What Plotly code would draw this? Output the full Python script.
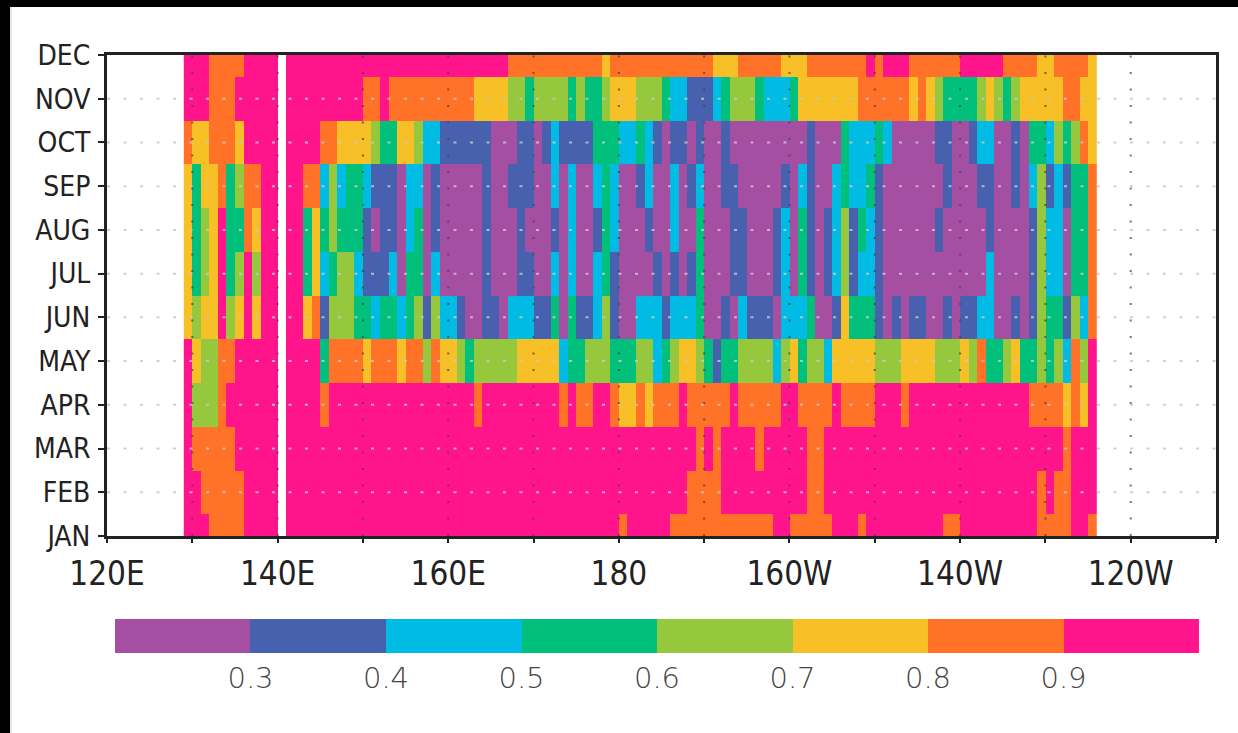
import plotly.graph_objects as go

# ---------------- data ----------------
months = ["JAN", "FEB", "MAR", "APR", "MAY", "JUN", "JUL", "AUG", "SEP", "OCT", "NOV", "DEC"]
month_pos = list(range(1, 13))

# western edge of each 1-degree longitude cell (129E ... 124W)
lon_west = list(range(129, 236))

# colour class per cell, one string per month (107 cells, groups of 10 separated by spaces)
# P<0.3  B 0.3-0.4  C 0.4-0.5  G 0.5-0.6  L 0.6-0.7  Y 0.7-0.8  O 0.8-0.9  M>0.9  -=missing
jan = "MMMOOOOMMM M-MMMMMMMM MMMMMMMMMM MMMMMMMMMM MMMMMMMMMM MOMMMMMOOO OOOOOOOOOM MOOOOOMMMO MMMMMMMMMO OMMMMMMMMM OOOOMMO"
feb = "MMOOOOOMMM M-MMMMMMMM MMMMMMMMMM MMMMMMMMMM MMMMMMMMMM MMMMMMMMMO OOOMMMMMMM MMMOOMMMMM MMMMMMMMMM MMMMMMMMMM OMOOMMM"
mar = "MOOOOOMMMM M-MMMMMMMM MMMMMMMMMM MMMMMMMMMM MMMMMMMMMM MMMMMMMMMM OMOMMMMOMM MMMOOMMMMM MMMMMMMMMM MMMMMMMMMM MMMOMMM"
apr = "MLLLOMMMMM M-MMMMOMMM MMMMMMMMMM MMMMOMMMMM MMMMOMOOMM OYYOYOOOMO OOOOMOOOOO MMOOOOMOOO OMMMOMMMMM MMMMMMMMMO OOOYOYM"
may = "MYLLOOMMMM M-MMMMGOOO OYOOOYOOLO YYLGLLLLLY YYYYCGGLLL GGGLLCGLYY LGBGGLLLLC LYGLLCYYYY YLLLYYYYLL LYLOGGLYGG LGLCOLM"
jun = "YLYYMLYMYM M-MMYOBLLL GGCGGCGLBL CCBPPBBPCC CBBGPGBBCL BPPCCCBCCC GPPBPCBBBP CCCGPPBYGG GBPBPBBPPB PBBCCPPBPB LGGBLCO"
jul = "YGLYMGLMLM M-MMGYCGLL CBBBCPGGPC PPPPPBPPPB BPPCPCPPCG BPPPPBPBPB GPPPBBPPPB CPGBPBCLBC CBPPPPPPPP PPPPCPPPPB LCCPGGO"
aug = "YGLYMGGOYM M-MMGYGLGG GBPBBPCGPB PPPPPBPPPB PPPBPCPPBG CPPPBPPCPP GPPPBBPPPB CPGBPBCLBG CBPPPPPPBP PPPPBPPPPB LCCPGGO"
sep = "YGYYOGLOOM M-MMOOCLCG GCBBBPCCPB PPPPPBPPBB BPPCPCPPCG CPPBCPPCPB CPPBBPPPPP BPCBPPCGCC GBPPPPPPPB PPPBBPPBPC LBCBGGO"
oct_ = "OYYOOOYMMM M-MMMMOOYY YYLGGYYLCC BBBBBBPPPB BPBCBBBBGG GCCGCBPBBP BPPBPPPPPP PPPBPPPGCC CGCPPPPPBB PPBCCPPBPG GCLGLOY"
nov = "MMMOOOMMMM M-MMMMMMMM MOOMOOOOOO OOOOYYYYLL GLLLLGLGGL YYYLLLGCCB BBCGLLLGCC CGYYYYYYYO OOOOOYOYLG GGGLYLGLYY YYYOOYY"
dec = "MMMOOOOMMM M-MMMMMMMM MMMMMMMMMM MMMMMMMMOO OOOOOOOOOY OOOOOOOOOO OOYYYOOOOO YYYOOOOOOO MOMMMOOOOO OMMMMMOOOO YYOOOOY"

# representative value of each colour class
class_value = {"P": 0.25, "B": 0.35, "C": 0.45, "G": 0.55, "L": 0.65,
               "Y": 0.75, "O": 0.85, "M": 0.95, "-": None}

bin_edges = [0.2, 0.3, 0.4, 0.5, 0.6, 0.7, 0.8, 0.9, 1.0]
bin_colors = ["#A54FA2", "#4761AE", "#00BBE3", "#00C07C",
              "#95C83D", "#F7C026", "#FF7228", "#FF148C"]
cbar_ticks = [0.3, 0.4, 0.5, 0.6, 0.7, 0.8, 0.9]
cbar_labels = ["0.3", "0.4", "0.5", "0.6", "0.7", "0.8", "0.9"]

x_tickvals = [120, 130, 140, 150, 160, 170, 180, 190, 200, 210, 220, 230, 240, 250]
x_ticktext = ["120E", "", "140E", "", "160E", "", "180", "", "160W", "", "140W", "", "120W", ""]

# ---------------- build ----------------
rows = [jan, feb, mar, apr, may, jun, jul, aug, sep, oct_, nov, dec]
z = []
for r in rows:
    codes = r.replace(" ", "")
    z.append([class_value[c] for c in codes])
x_centers = [w + 0.5 for w in lon_west]

zmin, zmax = bin_edges[0], bin_edges[-1]
colorscale = []
for i, c in enumerate(bin_colors):
    colorscale.append([(bin_edges[i] - zmin) / (zmax - zmin), c])
    colorscale.append([(bin_edges[i + 1] - zmin) / (zmax - zmin), c])

W, H = 1238, 733
L_, R_ = 107, 1216
T_, B_ = 55, 536
pw, ph = R_ - L_, B_ - T_


def px(xp):
    return (xp - L_) / pw


def py(yp):
    return (B_ - yp) / ph


fig = go.Figure()
fig.add_trace(go.Heatmap(
    x=x_centers, y=month_pos, z=z,
    colorscale=colorscale, zmin=zmin, zmax=zmax,
    hoverongaps=False,
    colorbar=dict(
        orientation="h",
        thicknessmode="pixels", thickness=34,
        lenmode="pixels", len=1084,
        x=px(657), xanchor="center",
        y=py(619), yanchor="top",
        xpad=0, ypad=0, outlinewidth=0,
        tickvals=cbar_ticks, ticktext=cbar_labels,
        ticks="inside", ticklen=0, tickwidth=0,
        ticklabelposition="outside bottom",
        tickfont=dict(family="DejaVu Sans", size=29, color="#444444", weight=300),
    ),
))

shapes = []
# grid drawn above the data, dotted
for xv in x_tickvals[1:-1]:
    shapes.append(dict(type="line", xref="x", yref="paper", x0=xv, x1=xv, y0=0, y1=1,
                       line=dict(color="rgba(70,70,70,0.75)", width=2, dash="2px,14.5px"),
                       layer="above"))
for yv in month_pos[1:-1]:
    shapes.append(dict(type="line", xref="paper", yref="y", x0=0, x1=1, y0=yv, y1=yv,
                       line=dict(color="rgba(200,200,200,0.85)", width=2, dash="3px,13.5px"),
                       layer="above"))
# black frame on top and left edges of the picture
shapes.append(dict(type="rect", xref="paper", yref="paper",
                   x0=px(0), x1=px(W), y0=py(0), y1=py(7),
                   fillcolor="black", line=dict(width=0), layer="above"))
shapes.append(dict(type="rect", xref="paper", yref="paper",
                   x0=px(0), x1=px(10), y0=py(H), y1=py(0),
                   fillcolor="black", line=dict(width=0), layer="above"))
shapes.append(dict(type="line", xref="paper", yref="paper",
                   x0=px(11), x1=px(11), y0=py(H), y1=py(7),
                   line=dict(color="#d0d0d0", width=1), layer="above"))

axis_font = "Liberation Sans Narrow, DejaVu Sans Condensed, Arial Narrow, sans-serif"
fig.update_layout(
    width=W, height=H,
    margin=dict(l=L_, r=W - R_, t=T_, b=H - B_, pad=0),
    paper_bgcolor="white", plot_bgcolor="white",
    showlegend=False,
    shapes=shapes,
    xaxis=dict(range=[120, 250], tickvals=x_tickvals, ticktext=x_ticktext,
               showgrid=False, zeroline=False,
               showline=True, linewidth=3, linecolor="#222222", mirror=True,
               ticks="outside", ticklen=4, tickwidth=2, tickcolor="#222222",
               ticklabelstandoff=2,
               tickfont=dict(family=axis_font, size=33, color="#222222"),
               layer="above traces"),
    yaxis=dict(range=[1, 12], tickvals=month_pos, ticktext=months,
               showgrid=False, zeroline=False,
               showline=True, linewidth=3, linecolor="#222222", mirror=True,
               ticks="outside", ticklen=6, tickwidth=2, tickcolor="#222222",
               ticklabelstandoff=2,
               tickfont=dict(family=axis_font, size=28, color="#222222"),
               layer="above traces"),
)

fig.write_html("out.html",
               config={"displayModeBar": False},
               post_script="document.body.style.margin='0';document.body.style.padding='0';")
